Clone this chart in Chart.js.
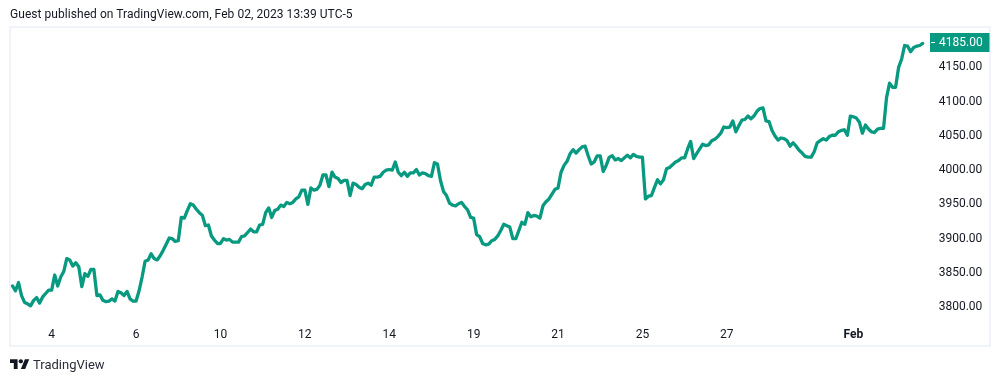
<!DOCTYPE html>
<html>
<head>
<meta charset="utf-8">
<title>TradingView chart</title>
<script src="https://cdn.jsdelivr.net/npm/chart.js@4"></script>
<style>
  html, body { margin: 0; background: #fff; }
  #wrap { position: relative; width: 1000px; height: 382px; overflow: hidden; color: #131722; }
  #frame { position: absolute; left: 9px; top: 26px; width: 982px; height: 321px; box-sizing: border-box; border: 2px solid #f0f3fa; }
  #listingsChart { position: absolute; left: 0; top: 0; }
  #title { position: absolute; left: 10px; top: 7px; font: 12px/14px Roboto, sans-serif; letter-spacing: 0.05px; white-space: nowrap; }
  #brand { position: absolute; left: 33px; top: 356px; font: 13px/17px Roboto, sans-serif; color: #2a2e39; }
  #logo { position: absolute; left: 10px; top: 357px; width: 19.5px; height: 15.2px; fill: #131722; }
</style>
</head>
<body>
<div id="wrap">
  <div id="frame"></div>
  <canvas id="listingsChart" width="1000" height="382"></canvas>
  <div id="title">Guest published on TradingView.com, Feb 02, 2023 13:39 UTC-5</div>
  <svg id="logo" viewBox="0 0 36 28"><path d="M14 22H7V11H0V4h14v18zM28 22h-8l7.5-18h8L28 22z"/><circle cx="20" cy="8" r="4"/></svg>
  <div id="brand">TradingView</div>
</div>
<script>
const prices = [
  3831,3824,3836,3817,3807,3805,3802,3810,3814,3806,3815,3820,3825,3825,3847,3831,3844,3852,3871,3869,
  3860,3865,3859,3830,3849,3845,3855,3855,3817,3818,3810,3808,3809,3812,3809,3823,3821,3817,3823,3812,
  3809,3809,3824,3844,3867,3869,3878,3871,3869,3875,3883,3892,3901,3900,3896,3897,3931,3930,3941,3951,
  3949,3943,3938,3934,3919,3920,3904,3898,3893,3893,3900,3898,3899,3895,3895,3895,3903,3904,3909,3914,
  3910,3910,3920,3921,3938,3945,3931,3941,3943,3949,3947,3953,3951,3953,3958,3961,3971,3971,3950,3974,
  3971,3972,3978,3993,3993,3976,
  3997,3990,3988,3982,3985,3985,3963,3981,3979,3975,3973,3979,3981,3978,3990,3990,3991,3997,4000,4001,
  4000,4012,3997,3992,3997,3991,3996,3996,4001,3993,3996,3995,3992,3991,4011,4009,3985,3969,3963,3952,
  3949,3948,3951,3953,3947,3942,3931,3930,3906,3903,3893,3891,3892,3897,3899,3904,3912,3921,3919,3917,
  3900,3900,3912,3924,3921,3938,3932,3934,3933,3930,3948,3954,3958,3965,3972,3974,3997,4007,4013,4024,
  4030,4025,4030,4034,4035,4021,4009,4012,4021,4021,3998,4007,4019,4021,4015,4017,4014,4018,4022,4018,
  4023,4020,4019,4019,
  3958,3962,3963,3975,3986,3980,3986,4002,4004,4008,4012,4014,4018,4018,4031,4042,4017,4024,4031,4038,
  4036,4037,4043,4045,4049,4054,4063,4062,4063,4072,4056,4065,4073,4074,4079,4075,4079,4086,4090,4091,
  4072,4071,4058,4050,4044,4047,4046,4043,4035,4040,4035,4029,4025,4020,4019,4019,4027,4040,4043,4046,
  4044,4049,4051,4051,4056,4058,4059,4051,4079,4078,4076,4070,4054,4066,4060,4056,4055,4060,4061,4061,
  4106,4127,4121,4121,4150,4162,4182,4181,4173,4179,4181,4182,4185
];
const tickLabels = ['4', '6', '10', '12', '14', '19', '21', '25', '27', 'Feb'];
const tickIndex = [13, 41, 69, 97, 125, 153, 181, 209, 237, 279];
const priceTicks = [3800, 3850, 3900, 3950, 4000, 4050, 4100, 4150];

const teal = '#089981';
const axisFont = 'Roboto, sans-serif';

const labels = prices.map((p, i) => {
    const k = tickIndex.indexOf(i);
    return k >= 0 ? tickLabels[k] : '';
});

// last price tag on the right axis
const lastPriceTag = {
    id: 'lastPriceTag',
    afterDraw(chart) {
        const c = chart.ctx;
        const last = prices[prices.length - 1];
        const y = Math.round(chart.scales.y.getPixelForValue(last));
        c.save();
        c.fillStyle = teal;
        c.fillRect(930, y - 10, 59.5, 19);
        c.fillStyle = '#fff';
        c.fillRect(931, y - 1, 4, 1);
        c.font = '12px ' + axisFont;
        c.textBaseline = 'middle';
        c.fillText(last.toFixed(2), 939, y);
        c.restore();
    }
};

new Chart(document.getElementById('listingsChart'), {
    type: 'line',
    data: {
        labels: labels,
        datasets: [{
            data: prices,
            borderColor: teal,
            borderWidth: 3.3,
            pointRadius: 0,
            tension: 0,
            borderJoinStyle: 'round',
            borderCapStyle: 'round',
            clip: false
        }]
    },
    plugins: [lastPriceTag],
    options: {
        responsive: false,
        animation: false,
        layout: { padding: { left: 12.5, right: 10, top: 27, bottom: 35 } },
        plugins: { legend: { display: false }, tooltip: { enabled: false } },
        scales: {
            x: {
                grid: { display: false, drawTicks: false },
                border: { display: false },
                afterFit: s => { s.height = 25; },
                ticks: {
                    autoSkip: false,
                    maxRotation: 0,
                    padding: 6,
                    color: '#131722',
                    font: ctx => ({
                        family: axisFont,
                        size: 12,
                        weight: ctx.tick && ctx.tick.label === 'Feb' ? 'bold' : 'normal'
                    }),
                    callback: function (v) {
                        return this.getLabelForValue(v) || null;
                    }
                }
            },
            y: {
                position: 'right',
                min: 3778.4,
                max: 4209,
                grid: { display: false, drawTicks: false },
                border: { display: false },
                afterFit: s => { s.width = 67.3; },
                afterBuildTicks: s => { s.ticks = priceTicks.map(v => ({ value: v })); },
                ticks: {
                    padding: 16,
                    color: '#131722',
                    font: { family: axisFont, size: 12 },
                    callback: v => v.toFixed(2)
                }
            }
        }
    }
});
</script>
</body>
</html>
